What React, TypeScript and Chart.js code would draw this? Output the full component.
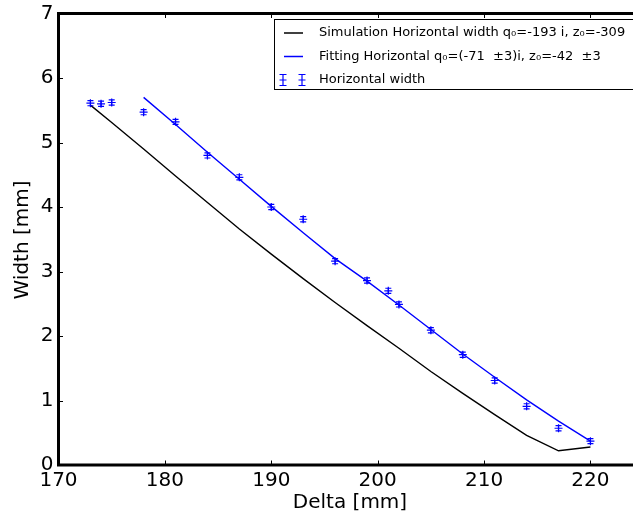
import { useEffect, useRef } from 'react';
import { Chart, registerables } from 'chart.js';

Chart.register(...registerables);

const FONT = '"DejaVu Sans", "Bitstream Vera Sans", sans-serif';

// x tick labels and y tick labels
const xTickValues = [170, 180, 190, 200, 210, 220];
const yTickValues = [0, 1, 2, 3, 4, 5, 6, 7];

// Measured horizontal width
const deltaMeas = [173, 174, 175, 178, 181, 184, 187, 190, 193, 196, 199, 201, 202, 205, 208, 211, 214, 217, 220];
const widthMeas = [5.61, 5.60, 5.62, 5.47, 5.32, 4.80, 4.46, 4.00, 3.81, 3.16, 2.86, 2.70, 2.49, 2.09, 1.71, 1.31, 0.91, 0.57, 0.37];
const widthErr = [0.04, 0.04, 0.04, 0.04, 0.04, 0.04, 0.04, 0.04, 0.04, 0.04, 0.04, 0.04, 0.04, 0.04, 0.04, 0.04, 0.04, 0.04, 0.04];

// Simulation curve
const deltaSim = [173, 175, 178, 181, 184, 187, 190, 193, 196, 199, 202, 205, 208, 211, 214, 217, 220];
const widthSim = [5.58, 5.31, 4.90, 4.48, 4.07, 3.66, 3.27, 2.89, 2.52, 2.16, 1.81, 1.45, 1.11, 0.78, 0.46, 0.22, 0.28];

// Fitting curve
const deltaFit = [178, 181, 184, 187, 190, 193, 196, 199, 202, 205, 208, 211, 214, 217, 220];
const widthFit = [5.70, 5.28, 4.85, 4.43, 4.01, 3.60, 3.20, 2.85, 2.48, 2.10, 1.72, 1.36, 1.01, 0.68, 0.37];

const legendLabels = [
  'Simulation Horizontal width q\u2080=-193 i, z\u2080=-309',
  'Fitting Horizontal q\u2080=(-71  \u00b13)i, z\u2080=-42  \u00b13',
  'Horizontal width',
];

const xTitle = 'Delta [mm]';
const yTitle = 'Width [mm]';

const BLUE = '#0000ff';

const decorPlugin = {
  id: 'decor',
  afterDatasetsDraw(chart: any) {
    const ctx = chart.ctx;
    const xs = chart.scales.x;
    const ys = chart.scales.y;
    ctx.save();
    ctx.strokeStyle = BLUE;
    ctx.lineWidth = 1.2;
    for (let i = 0; i < deltaMeas.length; i++) {
      const px = xs.getPixelForValue(deltaMeas[i]);
      const pTop = ys.getPixelForValue(widthMeas[i] + widthErr[i]);
      const pBot = ys.getPixelForValue(widthMeas[i] - widthErr[i]);
      ctx.beginPath();
      ctx.moveTo(px, pTop);
      ctx.lineTo(px, pBot);
      ctx.moveTo(px - 3, pTop);
      ctx.lineTo(px + 3, pTop);
      ctx.moveTo(px - 3, pBot);
      ctx.lineTo(px + 3, pBot);
      ctx.stroke();
    }
    ctx.restore();
  },
  afterDraw(chart: any) {
    const ctx = chart.ctx;
    const area = chart.chartArea;
    const xs = chart.scales.x;
    const ys = chart.scales.y;
    ctx.save();

    // inward ticks
    ctx.strokeStyle = '#000';
    ctx.lineWidth = 1;
    const tl = 4.5;
    ctx.beginPath();
    for (const v of xTickValues) {
      const px = Math.round(xs.getPixelForValue(v)) + 0.5;
      ctx.moveTo(px, area.bottom);
      ctx.lineTo(px, area.bottom - tl);
      ctx.moveTo(px, area.top);
      ctx.lineTo(px, area.top + tl);
    }
    for (const v of yTickValues) {
      const py = Math.round(ys.getPixelForValue(v)) + 0.5;
      ctx.moveTo(area.left, py);
      ctx.lineTo(area.left + tl, py);
    }
    ctx.stroke();

    // spines
    ctx.lineWidth = 3;
    ctx.lineCap = 'square';
    ctx.beginPath();
    ctx.moveTo(area.right + 5, area.top);
    ctx.lineTo(area.left, area.top);
    ctx.lineTo(area.left, area.bottom);
    ctx.lineTo(area.right + 5, area.bottom);
    ctx.stroke();

    // axis titles
    ctx.fillStyle = '#000';
    ctx.font = `20px ${FONT}`;
    ctx.textAlign = 'center';
    ctx.textBaseline = 'middle';
    ctx.fillText(xTitle, 350, 503);
    ctx.save();
    ctx.translate(22.5, 240);
    ctx.rotate(-Math.PI / 2);
    ctx.fillText(yTitle, 0, 0);
    ctx.restore();

    // legend
    const bx = 274.5;
    const by = 19.5;
    const bh = 70;
    ctx.fillStyle = '#fff';
    ctx.fillRect(bx, by, 400, bh);
    ctx.strokeStyle = '#000';
    ctx.lineWidth = 1;
    ctx.lineCap = 'butt';
    ctx.strokeRect(bx, by, 400, bh);

    const rows = [33, 56.5, 80];
    // line handles
    ctx.lineWidth = 1.5;
    ctx.strokeStyle = '#000';
    ctx.beginPath();
    ctx.moveTo(284, rows[0]);
    ctx.lineTo(303, rows[0]);
    ctx.stroke();
    ctx.strokeStyle = BLUE;
    ctx.beginPath();
    ctx.moveTo(284, rows[1]);
    ctx.lineTo(303, rows[1]);
    ctx.stroke();
    // errorbar handles
    ctx.lineWidth = 1.2;
    for (const hx of [283, 302]) {
      const cy = rows[2];
      ctx.beginPath();
      ctx.moveTo(hx, cy - 5.5);
      ctx.lineTo(hx, cy + 5.5);
      ctx.moveTo(hx - 3.5, cy - 5.5);
      ctx.lineTo(hx + 3.5, cy - 5.5);
      ctx.moveTo(hx - 3.5, cy + 5.5);
      ctx.lineTo(hx + 3.5, cy + 5.5);
      ctx.moveTo(hx - 3.5, cy);
      ctx.lineTo(hx + 3.5, cy);
      ctx.stroke();
    }
    ctx.fillStyle = '#000';
    ctx.font = `13px ${FONT}`;
    ctx.textAlign = 'left';
    ctx.textBaseline = 'middle';
    legendLabels.forEach((t, i) => ctx.fillText(t, 319, rows[i]));

    ctx.restore();
  },
};

export default function App() {
  const ref = useRef<HTMLCanvasElement | null>(null);

  useEffect(() => {
    if (!ref.current) return;
    const chart = new Chart(ref.current, {
      type: 'scatter',
      data: {
        datasets: [
          {
            label: legendLabels[0],
            data: deltaSim.map((x, i) => ({ x, y: widthSim[i] })),
            showLine: true,
            borderColor: '#000',
            borderWidth: 1.4,
            pointRadius: 0,
            fill: false,
          },
          {
            label: legendLabels[1],
            data: deltaFit.map((x, i) => ({ x, y: widthFit[i] })),
            showLine: true,
            borderColor: BLUE,
            borderWidth: 1.4,
            pointRadius: 0,
            fill: false,
          },
          {
            label: legendLabels[2],
            data: deltaMeas.map((x, i) => ({ x, y: widthMeas[i] })),
            showLine: false,
            pointStyle: 'cross',
            pointRadius: 4,
            borderColor: BLUE,
            backgroundColor: BLUE,
            borderWidth: 1.2,
          },
        ],
      },
      options: {
        animation: false,
        responsive: false,
        devicePixelRatio: 1,
        layout: { autoPadding: false, padding: { top: 13.5, left: 0, right: 0, bottom: 0 } },
        plugins: {
          legend: { display: false },
          tooltip: { enabled: false },
        },
        scales: {
          x: {
            type: 'linear',
            min: 170,
            max: 224,
            grid: { display: false, drawTicks: false },
            border: { display: false },
            afterBuildTicks: (scale: any) => {
              scale.ticks = xTickValues.map((v) => ({ value: v }));
            },
            afterFit: (scale: any) => {
              scale.height = 55;
              scale.paddingLeft = 0;
              scale.paddingRight = 0;
            },
            ticks: {
              padding: 4,
              color: '#000',
              font: { family: FONT, size: 20 },
              maxRotation: 0,
              autoSkip: false,
              callback: (v: any) => String(v),
            },
          },
          y: {
            type: 'linear',
            min: 0,
            max: 7,
            grid: { display: false, drawTicks: false },
            border: { display: false },
            afterBuildTicks: (scale: any) => {
              scale.ticks = yTickValues.map((v) => ({ value: v }));
            },
            afterFit: (scale: any) => {
              scale.width = 58.5;
              scale.paddingTop = 0;
              scale.paddingBottom = 0;
            },
            ticks: {
              padding: 5,
              color: '#000',
              font: { family: FONT, size: 20 },
              autoSkip: false,
              callback: (v: any) => String(v),
            },
          },
        },
      },
      plugins: [decorPlugin],
    });
    return () => chart.destroy();
  }, []);

  return (
    <div style={{ position: 'absolute', left: 0, top: 0, width: 633, height: 520, overflow: 'hidden', background: '#fff' }}>
      <canvas ref={ref} width={633} height={520} style={{ display: 'block' }} />
    </div>
  );
}
